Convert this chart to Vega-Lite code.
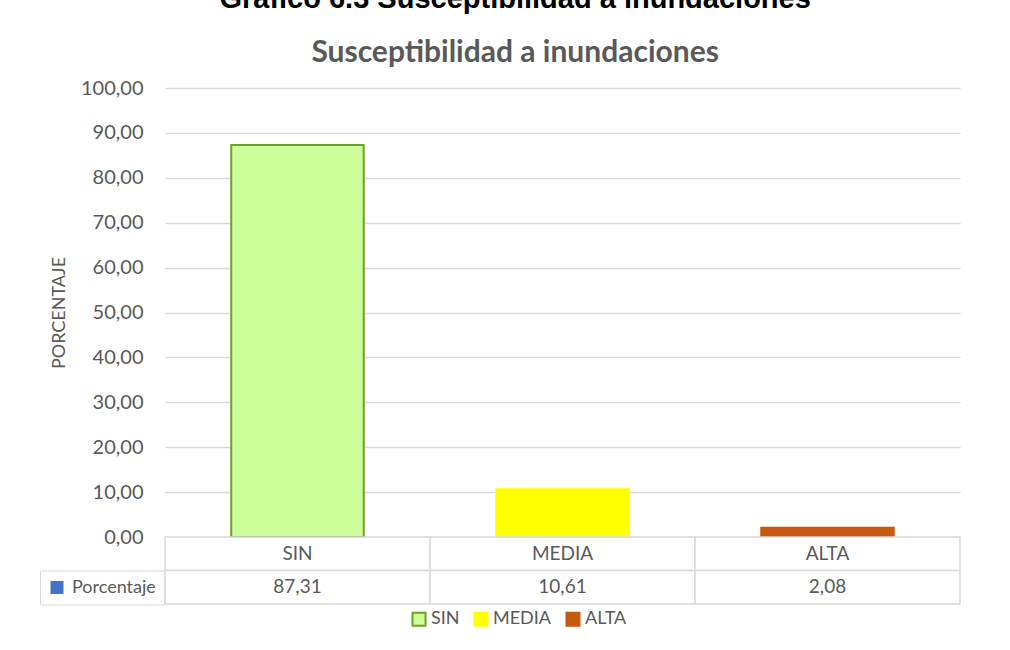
{
  "$schema": "https://vega.github.io/schema/vega-lite/v6.json",
  "padding": {"top": -15, "left": 39, "right": 5, "bottom": 5},
  "background": "white",
  "title": {
    "text": "Gráfico 6.3 Susceptibilidad a inundaciones",
    "subtitle": "Susceptibilidad a inundaciones",
    "font": "Liberation Sans",
    "fontSize": 29,
    "fontWeight": "bold",
    "color": "#000000",
    "subtitleFont": "Lato",
    "subtitleFontSize": 30,
    "subtitleFontWeight": "bold",
    "subtitleColor": "#595959",
    "subtitlePadding": 24,
    "anchor": "middle",
    "dx": 15,
    "offset": 10
  },
  "data": {"values": [
    {"cat": "SIN", "Porcentaje": 87.31},
    {"cat": "MEDIA", "Porcentaje": 10.61},
    {"cat": "ALTA", "Porcentaje": 2.08}
  ]},
  "bounds": "flush",
  "spacing": 0,
  "vconcat": [
    {
      "width": 795,
      "height": 449,
      "mark": {"type": "bar", "strokeWidth": 2},
      "encoding": {
        "x": {"field": "cat", "type": "nominal", "sort": ["SIN", "MEDIA", "ALTA"],
              "scale": {"paddingInner": 0.5, "paddingOuter": 0.25}, "axis": null},
        "y": {"field": "Porcentaje", "type": "quantitative",
              "scale": {"domain": [0, 100]},
              "axis": {"values": [0,10,20,30,40,50,60,70,80,90,100], "format": ",.2f",
                       "title": "PORCENTAJE", "titleFont": "Lato", "titleFontSize": 18,
                       "titleFontWeight": "normal", "titleColor": "#595959", "titlePadding": 12,
                       "labelFont": "Lato", "labelFontSize": 20, "labelColor": "#595959",
                       "labelPadding": 22, "ticks": false, "domain": false,
                       "grid": true, "gridColor": "#D9D9D9", "gridWidth": 1.5}},
        "color": {"field": "cat", "type": "nominal", "sort": ["SIN", "MEDIA", "ALTA"],
                  "scale": {"domain": ["SIN", "MEDIA", "ALTA"], "range": ["#CCFF99", "#FFFF00", "#C55A11"]},
                  "legend": {"orient": "none", "legendX": 245, "legendY": 522, "direction": "horizontal",
                             "title": null, "symbolType": "square", "symbolSize": 169,
                             "symbolStrokeWidth": 2,
                             "labelFont": "Lato", "labelFontSize": 18, "labelColor": "#595959",
                             "labelOffset": 3, "columnPadding": 10}},
        "stroke": {"field": "cat", "type": "nominal", "sort": ["SIN", "MEDIA", "ALTA"],
                   "scale": {"domain": ["SIN", "MEDIA", "ALTA"], "range": ["#6FA128", "#FFFF00", "#C55A11"]},
                   "legend": {"orient": "none", "legendX": 245, "legendY": 522, "direction": "horizontal",
                             "title": null, "symbolType": "square", "symbolSize": 169,
                             "symbolStrokeWidth": 2,
                             "labelFont": "Lato", "labelFontSize": 18, "labelColor": "#595959",
                             "labelOffset": 3, "columnPadding": 10}}
      }
    },
    {
      "width": 795,
      "height": 67,
      "encoding": {
        "x": {"field": "cat", "type": "nominal", "sort": ["SIN", "MEDIA", "ALTA"],
              "scale": {"paddingInner": 0, "paddingOuter": 0}, "axis": null}
      },
      "layer": [
        {
          "mark": {"type": "rect", "fill": "white", "stroke": "#D9D9D9", "strokeWidth": 1.5},
          "encoding": {"y": {"datum": "head", "type": "nominal",
                             "scale": {"domain": ["head", "val"], "paddingInner": 0, "paddingOuter": 0},
                             "axis": null}}
        },
        {
          "mark": {"type": "rect", "fill": "white", "stroke": "#D9D9D9", "strokeWidth": 1.5},
          "encoding": {"y": {"datum": "val", "type": "nominal"}}
        },
        {
          "mark": {"type": "point", "opacity": 0, "filled": true},
          "encoding": {
            "y": {"datum": "val", "type": "nominal"},
            "fill": {"datum": "Porcentaje", "type": "nominal",
                     "scale": {"range": ["#4472C4"]},
                     "legend": {"orient": "none", "legendX": -125, "legendY": 33.5,
                                "title": null, "symbolType": "square", "symbolSize": 169,
                                "symbolOpacity": 1, "symbolStrokeWidth": 0,
                                "strokeColor": "#D9D9D9", "padding": 8,
                                "labelFont": "Lato", "labelFontSize": 18, "labelColor": "#595959",
                                "labelOffset": 6}}
          }
        },
        {
          "mark": {"type": "text", "font": "Lato", "fontSize": 19, "color": "#595959"},
          "encoding": {"y": {"datum": "head", "type": "nominal"},
                       "text": {"field": "cat"}}
        },
        {
          "mark": {"type": "text", "font": "Lato", "fontSize": 19, "color": "#595959"},
          "encoding": {"y": {"datum": "val", "type": "nominal"},
                       "text": {"field": "Porcentaje", "type": "quantitative", "format": ",.2f"}}
        }
      ],
      "resolve": {"scale": {"fill": "independent"}, "legend": {"fill": "independent"}}
    }
  ],
  "resolve": {"scale": {"fill": "independent"}, "legend": {"fill": "independent"}},
  "config": {
    "font": "Lato",
    "locale": {"number": {"decimal": ",", "thousands": ".", "grouping": [3], "currency": ["", " €"]}},
    "view": {"stroke": null}
  }
}
